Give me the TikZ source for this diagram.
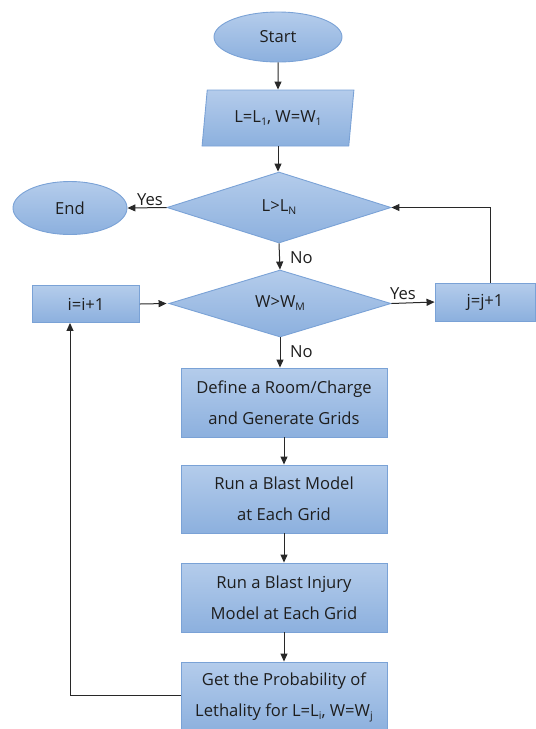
\documentclass[tikz,border=0pt]{standalone}
\usepackage{fontspec}
\setmainfont{Open Sans}
\usetikzlibrary{shapes.geometric,arrows.meta}
\definecolor{boxtop}{RGB}{180,204,235}
\definecolor{boxbot}{RGB}{140,176,222}
\definecolor{boxedge}{RGB}{122,162,214}
\definecolor{txt}{RGB}{30,30,30}
\definecolor{ln}{RGB}{40,40,40}
\newcommand{\lsub}[1]{\raisebox{-0.35ex}{\fontsize{10.5}{10.5}\selectfont #1}}
\tikzset{
  blk/.style={draw=boxedge, line width=0.9pt, top color=boxtop, bottom color=boxbot,
    text=txt, inner sep=0pt, font=\fontsize{16.6}{31}\selectfont, align=center},
  termnode/.style={blk, ellipse},
  procbox/.style={blk, rectangle},
  decbox/.style={blk, diamond},
  iobox/.style={blk, trapezium, trapezium left angle=78, trapezium right angle=102, trapezium stretches=true},
  conn/.style={draw=ln, line width=1pt, -{Triangle[length=8pt,width=7pt]}},
  lbl/.style={text=txt, font=\fontsize{16.6}{18}\selectfont, inner sep=0pt}
}
\begin{document}
\begin{tikzpicture}[x=1pt,y=-1pt]
\useasboundingbox (0,0) rectangle (536,729);
\node[termnode, minimum width=128, minimum height=50] (start) at (278,37) {Start};
\node[iobox, minimum width=153, minimum height=56] (init) at (278,118) {L=L\lsub{1}, W=W\lsub{1}};
\node[decbox, minimum width=224, minimum height=71] (d1) at (279,207.5) {L>L\lsub{N}};
\node[termnode, minimum width=114, minimum height=53] (finish) at (70,208) {End};
\node[decbox, minimum width=222, minimum height=67] (d2) at (280,303.5) {W>W\lsub{M}};
\node[procbox, minimum width=107, minimum height=37] (inci) at (86,304) {i=i+1};
\node[procbox, minimum width=100, minimum height=38] (incj) at (485,302) {j=j+1};
\node[procbox, minimum width=206, minimum height=69] (r1) at (284,402.5) {Define a Room/Charge\\and Generate Grids};
\node[procbox, minimum width=206, minimum height=68] (r2) at (284,499) {Run a Blast Model\\at Each Grid};
\node[procbox, minimum width=206, minimum height=69] (r3) at (284,597.5) {Run a Blast Injury\\Model at Each Grid};
\node[procbox, minimum width=206, minimum height=70] (r4) at (284,697) {Get the Probability of\\Lethality for L=L\lsub{i}, W=W\lsub{j}};
\coordinate (jup) at (490,0);
\coordinate (back) at (70,0);
% connectors
\draw[conn] (start.south) -- (init.south |- init.north);
\draw[conn] (init.south) -- (init.south |- d1.north);
\draw[conn] (d1.west) -- (finish.east);
\draw[conn] (d1.south) -- (d2.north);
\draw[conn] (d2.east) -- (incj.west);
\draw[conn] (jup |- incj.north) |- (d1.east);
\draw[conn] (inci.east) -- ([xshift=-2pt]d2.west);
\draw[conn] (d2.south) -- (d2.south |- r1.north);
\draw[conn] (r1.south) -- (r2.north);
\draw[conn] (r2.south) -- (r3.north);
\draw[conn] (r3.south) -- (r4.north);
\draw[conn] (r4.west |- 0,695) -| (back |- inci.south);
% labels
\node[lbl, anchor=south] (yes1) at (150,206) {Yes};
\node[lbl, anchor=west] (no1) at (290,258) {No};
\node[lbl, anchor=south] (yes2) at (403,300) {Yes};
\node[lbl, anchor=west] (no2) at (290,352) {No};
\end{tikzpicture}
\end{document}
